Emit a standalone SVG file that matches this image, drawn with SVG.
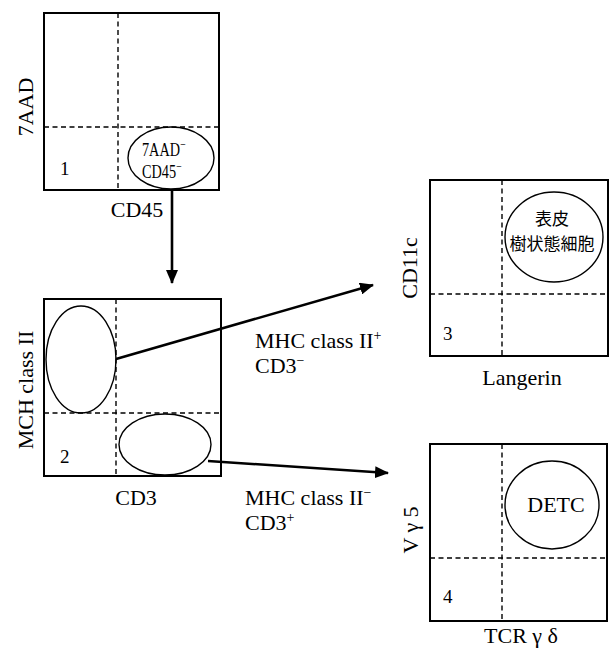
<svg xmlns="http://www.w3.org/2000/svg" width="610" height="653" viewBox="0 0 610 653">
<style>
.box{fill:none;stroke:#000;stroke-width:2}
.dash{fill:none;stroke:#000;stroke-width:1.4;stroke-dasharray:5,3.5}
.gate{fill:none;stroke:#000;stroke-width:1.4}
.t{font-family:'Liberation Serif','Times New Roman',serif;font-size:22px;fill:#000}
.s{font-family:'Liberation Serif','Times New Roman',serif;font-size:19px;fill:#000}
.n{font-family:'Liberation Serif','Times New Roman',serif;font-size:19px;fill:#000}
.j{font-family:'Noto Sans CJK JP','Noto Sans CJK SC',sans-serif;font-size:17px;fill:#000}
.arr{fill:none;stroke:#000;stroke-width:2.6}
</style>
<defs>
<marker id="ah" viewBox="0 0 14 12" refX="13" refY="6" markerWidth="14" markerHeight="12" markerUnits="userSpaceOnUse" orient="auto">
<path d="M0,0 L14,6 L0,12 Z" fill="#000"/>
</marker>
</defs>
<rect width="610" height="653" fill="#fff"/>

<g id="plot1">
<rect class="box" x="44" y="13" width="175" height="177"/>
<line class="dash" x1="118" y1="13" x2="118" y2="190"/>
<line class="dash" x1="44" y1="127" x2="219" y2="127"/>
<ellipse class="gate" cx="171" cy="158" rx="43" ry="31"/>
<text class="s" transform="translate(142,156) scale(0.75,1)">7AAD<tspan font-size="13" dy="-7">−</tspan></text>
<text class="s" transform="translate(142,178) scale(0.75,1)">CD45<tspan font-size="13" dy="-7">−</tspan></text>
<text class="n" x="60" y="175">1</text>
<text class="t" x="137" y="217" text-anchor="middle">CD45</text>
<text class="t" transform="translate(33,107) rotate(-90)" text-anchor="middle">7AAD</text>
</g>

<g id="plot2">
<rect class="box" x="44" y="299" width="177" height="177"/>
<line class="dash" x1="116" y1="299" x2="116" y2="476"/>
<line class="dash" x1="44" y1="413" x2="221" y2="413"/>
<ellipse class="gate" cx="81" cy="359.5" rx="35" ry="53.5"/>
<ellipse class="gate" cx="165" cy="444.5" rx="46" ry="30.5"/>
<text class="n" x="60" y="463">2</text>
<text class="t" x="136" y="505" text-anchor="middle">CD3</text>
<text class="t" transform="translate(33,390) rotate(-90)" text-anchor="middle">MCH class II</text>
</g>

<g id="plot3">
<rect class="box" x="430" y="180" width="178" height="176"/>
<line class="dash" x1="502" y1="180" x2="502" y2="356"/>
<line class="dash" x1="430" y1="294" x2="608" y2="294"/>
<ellipse class="gate" cx="554" cy="237" rx="49" ry="45"/>
<text class="j" x="552" y="225" text-anchor="middle">表皮</text>
<text class="j" x="552" y="250" text-anchor="middle">樹状態細胞</text>
<text class="n" x="443" y="340">3</text>
<text class="t" x="522" y="385" text-anchor="middle">Langerin</text>
<text class="t" transform="translate(417,268) rotate(-90)" text-anchor="middle">CD11c</text>
</g>

<g id="plot4">
<rect class="box" x="430" y="444" width="177" height="177"/>
<line class="dash" x1="502" y1="444" x2="502" y2="621"/>
<line class="dash" x1="430" y1="558" x2="607" y2="558"/>
<ellipse class="gate" cx="552" cy="505" rx="47" ry="44"/>
<text class="t" x="556" y="512" text-anchor="middle">DETC</text>
<text class="n" x="443" y="603">4</text>
<text class="t" x="521" y="643" text-anchor="middle">TCR γ δ</text>
<text class="t" transform="translate(418,530) rotate(-90)" text-anchor="middle">V γ 5</text>
</g>

<g id="connectors">
<line class="arr" x1="172" y1="190" x2="172" y2="283" marker-end="url(#ah)"/>
<line class="arr" x1="116" y1="359" x2="373" y2="285" marker-end="url(#ah)"/>
<line class="arr" x1="208" y1="461" x2="388" y2="473" marker-end="url(#ah)"/>
</g>

<g id="labels">
<text class="t" x="255" y="348" font-size="21">MHC class II<tspan font-size="14" dy="-8">+</tspan></text>
<text class="t" x="255" y="373" font-size="21">CD3<tspan font-size="14" dy="-8">−</tspan></text>
<text class="t" x="245" y="505" font-size="21">MHC class II<tspan font-size="14" dy="-8">−</tspan></text>
<text class="t" x="245" y="530" font-size="21">CD3<tspan font-size="14" dy="-8">+</tspan></text>
</g>
</svg>
